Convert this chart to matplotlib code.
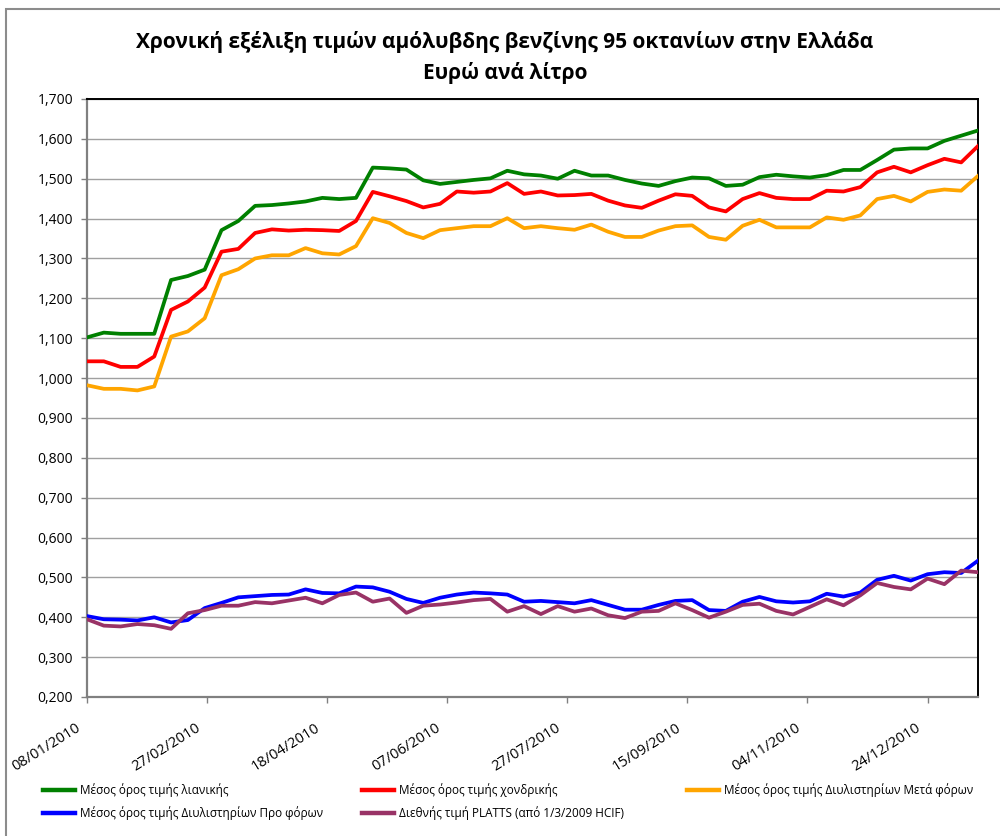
import matplotlib
matplotlib.use("Agg")
import matplotlib.pyplot as plt
import matplotlib.ticker as mticker
from matplotlib.patches import Rectangle
import numpy as np
import datetime as dt

plt.rcParams['font.family'] = ['Open Sans', 'DejaVu Sans']

# ---------------- data ----------------
start_date = "2010-01-08"
n_weeks = 54
tick_labels = ["08/01/2010", "27/02/2010", "18/04/2010", "07/06/2010",
               "27/07/2010", "15/09/2010", "04/11/2010", "24/12/2010"]

retail = [1.102, 1.114, 1.111, 1.111, 1.111, 1.246, 1.256, 1.272, 1.371, 1.394,
          1.432, 1.434, 1.438, 1.443, 1.452, 1.449, 1.452, 1.528, 1.526, 1.523,
          1.496, 1.487, 1.492, 1.497, 1.501, 1.520, 1.511, 1.508, 1.500, 1.520,
          1.508, 1.508, 1.497, 1.488, 1.482, 1.494, 1.503, 1.501, 1.482, 1.485,
          1.504, 1.510, 1.506, 1.503, 1.509, 1.522, 1.522, 1.547, 1.573, 1.576,
          1.576, 1.595, 1.608, 1.621]
wholesale = [1.042, 1.042, 1.028, 1.028, 1.054, 1.171, 1.192, 1.227, 1.317, 1.324,
             1.364, 1.373, 1.370, 1.372, 1.371, 1.369, 1.394, 1.467, 1.456, 1.444,
             1.428, 1.437, 1.468, 1.465, 1.468, 1.489, 1.462, 1.468, 1.458, 1.459,
             1.462, 1.445, 1.433, 1.427, 1.445, 1.461, 1.457, 1.428, 1.418, 1.449,
             1.464, 1.452, 1.449, 1.449, 1.470, 1.468, 1.479, 1.516, 1.530, 1.516,
             1.534, 1.550, 1.541, 1.582]
refinery_after_tax = [0.982, 0.973, 0.973, 0.969, 0.979, 1.104, 1.117, 1.150, 1.258, 1.273,
                      1.300, 1.308, 1.308, 1.326, 1.313, 1.310, 1.331, 1.401, 1.389, 1.364,
                      1.351, 1.371, 1.376, 1.381, 1.381, 1.401, 1.376, 1.381, 1.376, 1.372,
                      1.385, 1.367, 1.354, 1.354, 1.370, 1.381, 1.383, 1.354, 1.347, 1.382,
                      1.397, 1.378, 1.378, 1.378, 1.403, 1.397, 1.408, 1.449, 1.457, 1.443,
                      1.467, 1.473, 1.470, 1.507]
refinery_pre_tax = [0.403, 0.395, 0.394, 0.392, 0.400, 0.387, 0.393, 0.423, 0.436, 0.450,
                    0.453, 0.456, 0.457, 0.470, 0.461, 0.460, 0.477, 0.475, 0.464, 0.446,
                    0.436, 0.449, 0.457, 0.462, 0.460, 0.457, 0.439, 0.441, 0.438, 0.435,
                    0.443, 0.431, 0.419, 0.419, 0.431, 0.441, 0.443, 0.418, 0.416, 0.439,
                    0.451, 0.440, 0.437, 0.440, 0.459, 0.452, 0.462, 0.494, 0.504, 0.492,
                    0.508, 0.513, 0.511, 0.542]
platts = [0.395, 0.379, 0.377, 0.383, 0.380, 0.371, 0.410, 0.418, 0.429, 0.429,
          0.438, 0.435, 0.442, 0.449, 0.435, 0.456, 0.462, 0.439, 0.447, 0.411,
          0.429, 0.432, 0.437, 0.443, 0.446, 0.414, 0.428, 0.408, 0.428, 0.414,
          0.422, 0.405, 0.398, 0.414, 0.416, 0.435, 0.418, 0.399, 0.414, 0.431,
          0.434, 0.416, 0.407, 0.426, 0.445, 0.430, 0.455, 0.486, 0.476, 0.470,
          0.497, 0.483, 0.517, 0.513]

labels = ["Μέσος όρος τιμής λιανικής",
          "Μέσος όρος τιμής χονδρικής",
          "Μέσος όρος τιμής Διυλιστηρίων Μετά φόρων",
          "Μέσος όρος τιμής Διυλιστηρίων Προ φόρων",
          "Διεθνής τιμή PLATTS (από 1/3/2009 HCIF)"]
colors = ["#008000", "#FF0000", "#FFA500", "#0000FF", "#993366"]

title1 = "Χρονική εξέλιξη τιμών αμόλυβδης βενζίνης 95 οκτανίων στην Ελλάδα"
title2 = "Ευρώ ανά λίτρο"

# ---------------- figure ----------------
W, H = 1000, 836
fig = plt.figure(figsize=(W / 100, H / 100), dpi=100)
ax = fig.add_axes([87 / W, 1 - 697 / H, (978 - 87) / W, (697 - 99) / H])

d0 = np.datetime64(start_date)
dates = d0 + np.arange(n_weeks) * np.timedelta64(7, 'D')
xd = dates.astype('datetime64[D]').astype(dt.date)

series = [retail, wholesale, refinery_after_tax, refinery_pre_tax, platts]
lines = []
for vals, c, lab in zip(series, colors, labels):
    ln, = ax.plot(xd, vals, color=c, lw=2.7, label=lab, solid_joinstyle='round', zorder=3)
    lines.append(ln)

ax.set_ylim(0.2, 1.7)
ax.yaxis.set_major_locator(mticker.MultipleLocator(0.1))
ax.yaxis.set_major_formatter(mticker.FuncFormatter(lambda v, p: f"{v:.3f}".replace('.', ',')))
ax.set_xlim(xd[0], xd[-1])
tick_dates = [dt.datetime.strptime(s, "%d/%m/%Y").date() for s in tick_labels]
ax.set_xticks(tick_dates)
ax.set_xticklabels([])

ax.grid(axis='y', color='#a0a0a0', lw=1.0, zorder=0)
ax.set_axisbelow(True)
for s in ['top', 'right']:
    ax.spines[s].set_color('black')
    ax.spines[s].set_linewidth(1.4)
for s in ['left', 'bottom']:
    ax.spines[s].set_color('#808080')
    ax.spines[s].set_linewidth(1.6)

ax.tick_params(axis='y', direction='out', length=4.5, width=1.0, color='#808080',
               pad=5.5, labelsize=10, labelcolor='black')
ax.tick_params(axis='x', direction='out', length=4.0, width=1.0, color='#808080')

# rotated date labels
for d, s in zip(tick_dates, tick_labels):
    ax.annotate(s, xy=(d, 0), xycoords=('data', 'axes fraction'),
                xytext=(-12, -23), textcoords='offset pixels',
                rotation=32, rotation_mode='anchor', ha='right', va='top',
                fontsize=10.5, annotation_clip=False)

# titles
fig.text(505 / W, 1 - 42 / H, title1, ha='center', va='center', fontsize=15, fontweight='bold')
fig.text(505 / W, 1 - 73 / H, title2, ha='center', va='center', fontsize=15, fontweight='bold')

# legend, one column at a time
columns = [([0, 3], 43), ([1, 4], 362), ([2], 687)]
for idx, xpx in columns:
    leg = fig.legend([lines[i] for i in idx], [labels[i] for i in idx],
                     loc='upper left', bbox_to_anchor=(xpx / W, 1 - 783 / H),
                     ncol=1, frameon=False, fontsize=8.5, handlelength=2.7,
                     handletextpad=0.4, labelspacing=0.82,
                     borderpad=0, borderaxespad=0)
    for h in leg.get_lines():
        h.set_linewidth(3.2)

# outer chart border
fig.add_artist(Rectangle((6 / W, -0.05), 1.2, 1 - 9 / H + 0.05, transform=fig.transFigure,
                         fill=False, edgecolor='#8c8c8c', lw=1.5))

fig.savefig("out.png", dpi=100)
